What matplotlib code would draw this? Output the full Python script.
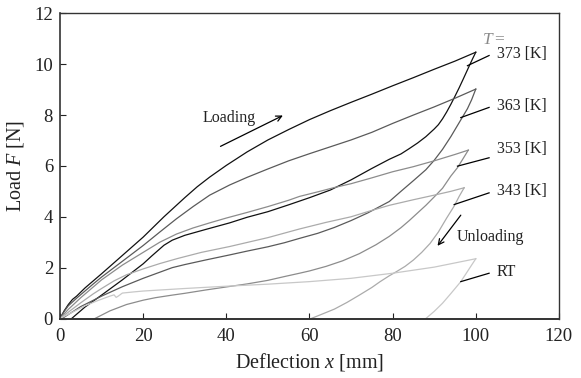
import matplotlib
matplotlib.use("Agg")
import matplotlib.pyplot as plt

plt.rcParams['font.family'] = ['Liberation Serif', 'DejaVu Serif']
plt.rcParams['mathtext.fontset'] = 'custom'
plt.rcParams['mathtext.rm'] = 'Liberation Serif'
plt.rcParams['mathtext.it'] = 'Liberation Serif:italic'

# ---- data ----
# 373 K
load373_x = [0, 1, 2, 3, 4, 6, 8, 10, 15, 20, 25, 30, 33, 36, 40, 45, 50, 55, 60, 65, 70, 75, 80, 85, 90, 95, 100]
load373_y = [0, 0.3, 0.55, 0.75, 0.88, 1.2, 1.48, 1.76, 2.48, 3.2, 4.0, 4.75, 5.18, 5.56, 6.02, 6.55, 7.02, 7.43, 7.82, 8.17, 8.5, 8.82, 9.15, 9.47, 9.8, 10.12, 10.47]
unl373_x = [100, 99.2, 98.4, 97, 96, 95, 94, 93, 92, 91, 90, 88, 86, 84, 82, 79.2, 75, 70, 65, 60, 55, 50, 45, 40.8, 35, 30, 27, 25, 22, 20, 15, 10, 6, 2.8]
unl373_y = [10.47, 10.2, 9.92, 9.42, 9.07, 8.74, 8.42, 8.12, 7.85, 7.62, 7.45, 7.15, 6.9, 6.68, 6.47, 6.26, 5.9, 5.45, 5.05, 4.75, 4.47, 4.2, 3.98, 3.76, 3.5, 3.27, 3.08, 2.88, 2.45, 2.15, 1.52, 0.92, 0.45, 0]
# 363 K
load363_x = [0, 1, 2, 4, 6, 8, 10, 15, 20, 24, 28, 32, 36, 40.8, 45, 50, 55, 60, 65, 70, 75, 80, 85, 90, 95, 100]
load363_y = [0, 0.28, 0.5, 0.8, 1.08, 1.36, 1.63, 2.25, 2.87, 3.4, 3.92, 4.4, 4.85, 5.25, 5.55, 5.88, 6.2, 6.48, 6.75, 7.02, 7.32, 7.67, 8.0, 8.32, 8.66, 9.02]
unl363_x = [100, 99, 98, 96, 94, 92, 90, 88, 85, 82, 79.2, 74, 70, 66, 62, 57.6, 54, 50, 45, 40.8, 35, 30, 27, 24, 20, 15, 10, 5, 0.5]
unl363_y = [9.02, 8.6, 8.25, 7.7, 7.15, 6.65, 6.22, 5.85, 5.42, 5.0, 4.6, 4.15, 3.85, 3.58, 3.35, 3.15, 2.98, 2.82, 2.65, 2.5, 2.3, 2.12, 2.0, 1.82, 1.58, 1.25, 0.88, 0.47, 0]
# 353 K
load353_x = [0, 2, 5, 10, 15, 20, 24, 28, 32, 36, 40, 45, 50, 55, 57.6, 62, 66, 70, 75, 80, 85, 90, 95, 98.2]
load353_y = [0, 0.36, 0.82, 1.52, 2.1, 2.6, 3.0, 3.32, 3.56, 3.76, 3.95, 4.17, 4.4, 4.65, 4.8, 4.98, 5.15, 5.3, 5.53, 5.77, 5.97, 6.2, 6.45, 6.62]
unl353_x = [98.2, 97, 95.6, 94, 92, 90, 88, 86, 84, 82, 79.2, 76, 72, 68, 64, 60, 57.6, 54, 50, 45, 40.8, 35, 30, 27, 23, 20, 16, 12, 8.4]
unl353_y = [6.62, 6.3, 5.93, 5.6, 5.12, 4.78, 4.45, 4.15, 3.85, 3.57, 3.23, 2.9, 2.55, 2.27, 2.05, 1.87, 1.78, 1.65, 1.5, 1.36, 1.26, 1.12, 0.99, 0.92, 0.82, 0.72, 0.55, 0.3, 0]
# 343 K
load343_x = [0, 2, 5, 8, 10, 13, 16, 20, 24, 28.3, 34, 40.8, 45, 50, 57.6, 64, 70, 75, 79.2, 85, 90, 94, 97.2]
load343_y = [0, 0.25, 0.62, 0.97, 1.18, 1.48, 1.72, 1.95, 2.16, 2.36, 2.6, 2.83, 2.99, 3.18, 3.52, 3.78, 4.0, 4.25, 4.45, 4.67, 4.85, 5.0, 5.14]
unl343_x = [97.2, 96, 94.8, 93, 91, 89, 87, 85, 83, 81, 79.2, 77, 75, 72, 69, 66, 63, 60.4]
unl343_y = [5.14, 4.8, 4.42, 3.95, 3.4, 2.95, 2.6, 2.3, 2.05, 1.85, 1.68, 1.45, 1.22, 0.92, 0.63, 0.37, 0.17, 0]
# RT
loadRT_x = [0, 3, 6, 9, 12, 13, 13.5, 14, 15, 18, 20, 30, 40, 50, 60, 70, 80, 90, 100]
loadRT_y = [0, 0.25, 0.5, 0.7, 0.88, 0.93, 0.83, 0.88, 1.0, 1.05, 1.08, 1.18, 1.27, 1.35, 1.45, 1.58, 1.78, 2.02, 2.35]
unlRT_x = [100, 99, 98, 96.4, 94, 92, 90, 88]
unlRT_y = [2.35, 2.1, 1.85, 1.45, 0.98, 0.6, 0.28, 0]

series_labels = ['373 [K]', '363 [K]', '353 [K]', '343 [K]', 'RT']
series_colors = ['#111111', '#5a5a5a', '#8c8c8c', '#ababab', '#c8c8c8']
loads = [(load373_x, load373_y), (load363_x, load363_y), (load353_x, load353_y),
         (load343_x, load343_y), (loadRT_x, loadRT_y)]
unloads = [(unl373_x, unl373_y), (unl363_x, unl363_y), (unl353_x, unl353_y),
           (unl343_x, unl343_y), (unlRT_x, unlRT_y)]

# label positions (data coords): text anchor, leader start, leader end
label_text_xy = [(105, 10.4), (105, 8.37), (105, 6.65), (105, 5.03), (105, 1.82)]
leader_from = [(98.0, 9.94), (96.4, 7.9), (95.6, 5.99), (94.8, 4.48), (96.4, 1.45)]
leader_to = [(103.2, 10.34), (103.2, 8.3), (103.2, 6.32), (103.2, 4.94), (103.2, 1.78)]

xticks = [0, 20, 40, 60, 80, 100, 120]
yticks = [0, 2, 4, 6, 8, 10, 12]

fig = plt.figure(figsize=(5.81, 3.78), dpi=100)
ax = fig.add_axes([0.1033, 0.1574, 0.8587, 0.8074])

for (lx, ly), (ux, uy), c in zip(loads, unloads, series_colors):
    ax.plot(lx, ly, color=c, lw=0.9, solid_joinstyle='round')
    ax.plot(ux, uy, color=c, lw=0.9, solid_joinstyle='round')

for lab, txy, p0, p1 in zip(series_labels, label_text_xy, leader_from, leader_to):
    ax.plot([p0[0], p1[0]], [p0[1], p1[1]], color='black', lw=0.9)
    ax.text(txy[0], txy[1], lab, fontsize=11.5, ha='left', va='center', color='#222222')

ax.text(101.5, 10.95, '$T=$', fontsize=12.5, color='#8a8a8a', ha='left', va='center')

ax.annotate('', xy=(54.2, 8.03), xytext=(38, 6.72),
            arrowprops=dict(arrowstyle='->', color='black', lw=0.9))
ax.text(34.4, 7.88, 'Loading', fontsize=11.5, ha='left', va='center', color='#222222')
ax.annotate('', xy=(90.4, 2.77), xytext=(96.8, 4.15),
            arrowprops=dict(arrowstyle='->', color='black', lw=0.9))
ax.text(95.3, 3.2, 'Unloading', fontsize=11.5, ha='left', va='center', color='#222222')

ax.set_xlim(0, 120)
ax.set_ylim(0, 12)
ax.set_xticks(xticks)
ax.set_yticks(yticks)
ax.tick_params(direction='in', length=4, width=0.8, labelsize=13.5, colors='#222222')
ax.tick_params(axis='x', pad=7)
ax.tick_params(axis='y', pad=5)
for s in ax.spines.values():
    s.set_color('#333333')
    s.set_linewidth(1.0)
ax.spines['bottom'].set_linewidth(1.4)
ax.spines['left'].set_linewidth(1.2)

ax.set_xlabel('Deflection $x$ [mm]', fontsize=14.5, color='#222222', labelpad=4)
ax.set_ylabel('Load $F$ [N]', fontsize=14.5, color='#222222', labelpad=6)

fig.savefig('out.png', dpi=100)
